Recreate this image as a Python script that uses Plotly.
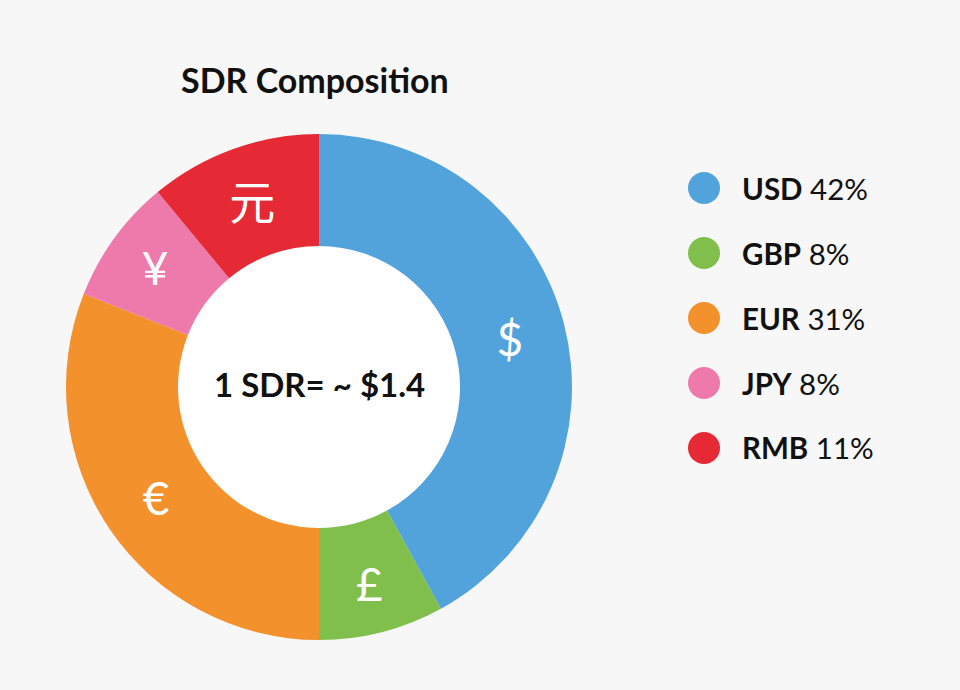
import plotly.graph_objects as go

# data
codes = ["USD", "GBP", "EUR", "JPY", "RMB"]
shares = [42, 8, 31, 8, 11]
symbols = ["$", "£", "€", "¥", "元"]
colors = ["#52a3db", "#80bf4b", "#f3922d", "#ee7aac", "#e52935"]

W, H = 960, 690
cx, cy = 319, 387      # donut centre, px from top-left
r_out, r_in = 253, 141


def px(x):
    return x / W


def py(y):
    return 1 - y / H


fig = go.Figure()

fig.add_trace(go.Pie(
    labels=codes,
    values=shares,
    text=symbols,
    textinfo="text",
    textposition="inside",
    insidetextorientation="horizontal",
    textfont=dict(family="Lato, Noto Sans CJK SC", size=46, color="white"),
    marker=dict(colors=colors, line=dict(width=0)),
    hole=r_in / r_out,
    sort=False,
    direction="clockwise",
    rotation=0,
    showlegend=False,
    hoverinfo="label+percent",
    domain=dict(x=[px(cx - r_out), px(cx + r_out)],
                y=[py(cy + r_out), py(cy - r_out)]),
))

shapes = [dict(type="circle", xref="paper", yref="paper", layer="below",
               x0=px(cx - r_in), x1=px(cx + r_in),
               y0=py(cy + r_in), y1=py(cy - r_in),
               fillcolor="white", line=dict(width=0))]

annotations = [
    dict(text="<b>SDR Composition</b>", x=px(315), y=py(80), xref="paper", yref="paper",
         xanchor="center", yanchor="middle",
         showarrow=False, font=dict(family="Lato", size=34, color="#111")),
    dict(text="<b>1 SDR= ~ $1.4</b>", x=px(cx), y=py(384), xref="paper", yref="paper",
         xanchor="center", yanchor="middle",
         showarrow=False, font=dict(family="Lato", size=33, color="#111")),
]

# custom legend with round markers
for i, (code, share, col) in enumerate(zip(codes, shares, colors)):
    ly = 188 + i * 65
    shapes.append(dict(type="circle", xref="paper", yref="paper",
                       x0=px(704 - 16), x1=px(704 + 16),
                       y0=py(ly + 16), y1=py(ly - 16),
                       fillcolor=col, line=dict(width=0)))
    annotations.append(dict(text=f"<b>{code}</b> {share}%", x=px(740), y=py(ly),
                            xref="paper", yref="paper", xanchor="left", yanchor="middle",
                            showarrow=False, font=dict(family="Lato", size=29.5, color="#111")))

fig.update_layout(
    width=W, height=H,
    margin=dict(l=0, r=0, t=0, b=0),
    paper_bgcolor="#f7f7f7",
    plot_bgcolor="#f7f7f7",
    shapes=shapes,
    annotations=annotations,
)

fig.write_html("out.html", config={"displayModeBar": False},
               post_script="document.body.style.margin='0';")
